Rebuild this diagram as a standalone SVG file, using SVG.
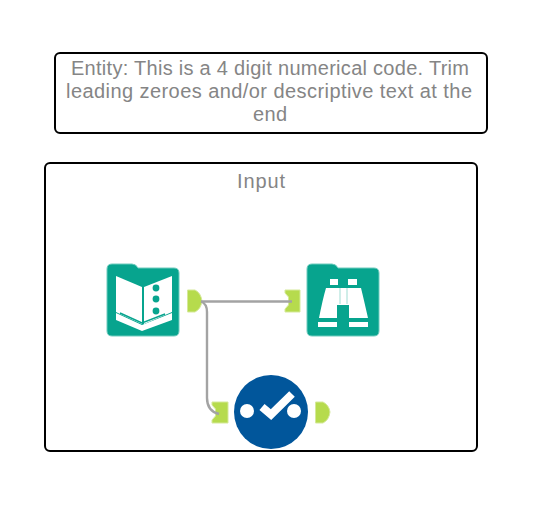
<svg xmlns="http://www.w3.org/2000/svg" width="560" height="512" viewBox="0 0 560 512">
<style>
.box{fill:#fff;stroke:#000;stroke-width:2}
.lbl{font-family:"Liberation Sans",Arial,sans-serif;font-size:20px;fill:#858585}
.teal{fill:#07a48e;stroke:#6fcbbd;stroke-width:1}
.port{fill:#b6db4d;stroke:#d5e99a;stroke-width:1}
.w{fill:#fff}
.dot{fill:#07a48e}
.conn{fill:none;stroke:#a3a3a3;stroke-width:2.4}
</style>
<rect width="560" height="512" fill="#fff"/>
<g id="note">
<rect class="box" x="55" y="53" width="432" height="80" rx="5"/>
<text class="lbl" x="71" y="75" textLength="398">Entity: This is a 4 digit numerical code. Trim</text>
<text class="lbl" x="66" y="98" textLength="406">leading zeroes and/or descriptive text at the</text>
<text class="lbl" x="253" y="121" textLength="34">end</text>
</g>
<g id="container">
<rect class="box" x="45" y="163" width="432" height="288" rx="5"/>
<text class="lbl" x="237" y="188" textLength="48">Input</text>
</g>
<g id="book">
<path class="teal" d="M112 264H132Q136 264 138 268H174Q179 268 179 273V331Q179 336 174 336H112Q107 336 107 331V269Q107 264 112 264Z"/>
<path class="w" d="M116 276L142 287V324L120 314L116 312Z"/>
<path class="w" d="M144 287L172 276V312L144 324Z"/>
<path class="w" d="M116 313L142 325L172 313V320L142 331L116 320Z"/>
<path d="M120 313L142 323L165 314" fill="none" stroke="#07a48e" stroke-width="1.500"/>
<circle class="dot" cx="156" cy="288" r="3.400"/>
<circle class="dot" cx="156" cy="299" r="3.400"/>
<circle class="dot" cx="156" cy="311" r="3.400"/>
</g>
<g id="browse">
<path class="teal" d="M312 264H332Q336 264 338 268H374Q379 268 379 273V331Q379 336 374 336H312Q307 336 307 331V269Q307 264 312 264Z"/>
<path class="w" d="M330 279H338V285H330Z"/>
<path class="w" d="M348 279H357V285H348Z"/>
<path class="w" d="M326 288H361Q363 296 368 318H349V305H337V318H319Q323 298 326 288Z"/>
<path d="M340 288V304M347 288V304" fill="none" stroke="#9fdcd2" stroke-width="1"/>
<path class="w" d="M318 322H337V327H318Z"/>
<path class="w" d="M349 322H368V327H349Z"/>
</g>
<g id="check">
<circle cx="271" cy="412" r="37" fill="#01569b"/>
<circle cx="247" cy="411" r="7" fill="#fff"/>
<circle cx="294" cy="411" r="7" fill="#fff"/>
<path d="M262 407L271 414.500L292 394" fill="none" stroke="#fff" stroke-width="8" stroke-linejoin="miter"/>
</g>
<g id="ports">
<path class="port" d="M187.500 290H195Q201 293 202 301Q201 309 195 312H187.500Z"/>
<path class="port" d="M285 290H300V312H285V309L288.500 305V297L285 293Z"/>
<path class="port" d="M212 402H228V423H212V420L215.500 416V409L212 405Z"/>
<path class="port" d="M315.500 402H323Q329 405 330 412Q329 420 323 423H315.500Z"/>
</g>
<g id="connectors">
<path class="conn" d="M201 301.500H292"/>
<path class="conn" d="M201 301.500C205 303 207 306 207 312V398C207 407 211 412 219 414"/>
</g>
</svg>
